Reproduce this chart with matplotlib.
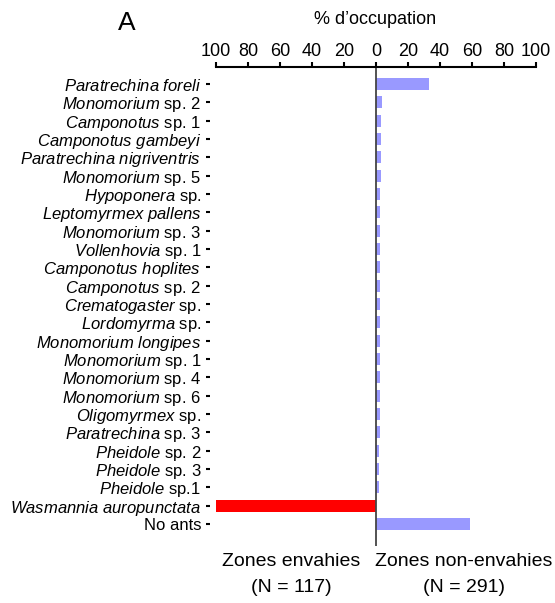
import matplotlib
matplotlib.use("Agg")
import matplotlib.pyplot as plt

plt.rcParams['font.family'] = ['Liberation Sans', 'DejaVu Sans']
plt.rcParams['mathtext.fontset'] = 'custom'
plt.rcParams['mathtext.it'] = 'Liberation Sans:italic'
plt.rcParams['mathtext.rm'] = 'Liberation Sans'

# species labels, top to bottom
species = [
    r"$\mathit{Paratrechina\ foreli}$",
    r"$\mathit{Monomorium}$ sp. 2",
    r"$\mathit{Camponotus}$ sp. 1",
    r"$\mathit{Camponotus\ gambeyi}$",
    r"$\mathit{Paratrechina\ nigriventris}$",
    r"$\mathit{Monomorium}$ sp. 5",
    r"$\mathit{Hypoponera}$ sp.",
    r"$\mathit{Leptomyrmex\ pallens}$",
    r"$\mathit{Monomorium}$ sp. 3",
    r"$\mathit{Vollenhovia}$ sp. 1",
    r"$\mathit{Camponotus\ hoplites}$",
    r"$\mathit{Camponotus}$ sp. 2",
    r"$\mathit{Crematogaster}$ sp.",
    r"$\mathit{Lordomyrma}$ sp.",
    r"$\mathit{Monomorium\ longipes}$",
    r"$\mathit{Monomorium}$ sp. 1",
    r"$\mathit{Monomorium}$ sp. 4",
    r"$\mathit{Monomorium}$ sp. 6",
    r"$\mathit{Oligomyrmex}$ sp.",
    r"$\mathit{Paratrechina}$ sp. 3",
    r"$\mathit{Pheidole}$ sp. 2",
    r"$\mathit{Pheidole}$ sp. 3",
    r"$\mathit{Pheidole}$ sp.1",
    r"$\mathit{Wasmannia\ auropunctata}$",
    "No ants",
]

# % occupation in invaded zones (N = 117)
invaded = [0, 0, 0, 0, 0, 0, 0, 0, 0, 0, 0, 0, 0, 0, 0, 0, 0, 0, 0, 0, 0, 0, 0,
           100, 0]
# % occupation in non-invaded zones (N = 291)
non_invaded = [33, 4.1, 3.4, 3.1, 3.1, 3.1, 2.4, 2.4, 2.4, 2.4, 2.4, 2.4, 2.4,
               2.4, 2.4, 2.4, 2.4, 2.4, 2.4, 2.4, 1.7, 1.7, 1.7, 0, 59]

xticks = [-100, -80, -60, -40, -20, 0, 20, 40, 60, 80, 100]

fig = plt.figure(figsize=(5.55, 6.03), dpi=100)
ax = fig.add_axes([0.389, 0.0945, 0.5766, 0.7944])

ypos = list(range(len(species)))
ax.barh(ypos, [-v for v in invaded], height=0.66, color='#ff0000')
ax.barh(ypos, non_invaded, height=0.66, color='#9999ff')
ax.axvline(0, color='#444444', lw=1.3)

ax.set_xlim(-100, 100)
ax.set_ylim(len(species) - 1 + 1.2, -0.93)

ax.xaxis.tick_top()
ax.set_xticks(xticks)
ax.set_xticklabels([str(abs(t)) for t in xticks])
ax.tick_params(axis='x', direction='out', length=3.5, width=1.5, pad=1.5,
               labelsize=13)

ax.set_yticks(ypos)
ax.set_yticklabels(species)
ax.tick_params(axis='y', direction='out', length=3, width=1.5, pad=3.5,
               labelsize=12)
ax.get_yticklabels()[-2].set_color('#ff0000')

for side in ['left', 'right', 'bottom']:
    ax.spines[side].set_visible(False)
ax.spines['left'].set_position(('outward', 4))
ax.spines['top'].set_linewidth(1.5)

fig.text(127 / 555, 1 - 23 / 603, "A", fontsize=19, ha='center', va='center')
fig.text(375 / 555, 1 - 19 / 603, "% d\u2019occupation", fontsize=13,
         ha='center', va='center')

# group captions under each half of the axis
for x, name, n in [(-53, "Zones envahies", "(N = 117)"),
                   (55, "Zones non-envahies", "(N = 291)")]:
    xf = fig.transFigure.inverted().transform(ax.transData.transform((x, 0)))[0]
    fig.text(xf, 1 - 562 / 603, name, fontsize=14, ha='center', va='center')
    fig.text(xf, 1 - 587 / 603, n, fontsize=14, ha='center', va='center')

fig.savefig("out.png", dpi=100)
